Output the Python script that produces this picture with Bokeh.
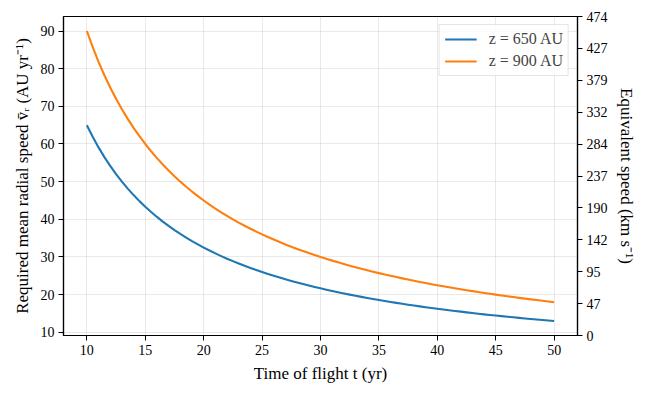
from bokeh.plotting import figure
from bokeh.models import Range1d, LinearAxis, FixedTicker, Legend, LegendItem
from bokeh.embed import file_html
from bokeh.resources import INLINE

# Time of flight (yr), half-year steps
t_yr = [10.0, 10.5, 11.0, 11.5, 12.0, 12.5, 13.0, 13.5, 14.0, 14.5, 15.0, 15.5, 16.0, 16.5,
        17.0, 17.5, 18.0, 18.5, 19.0, 19.5, 20.0, 20.5, 21.0, 21.5, 22.0, 22.5, 23.0, 23.5,
        24.0, 24.5, 25.0, 25.5, 26.0, 26.5, 27.0, 27.5, 28.0, 28.5, 29.0, 29.5, 30.0, 30.5,
        31.0, 31.5, 32.0, 32.5, 33.0, 33.5, 34.0, 34.5, 35.0, 35.5, 36.0, 36.5, 37.0, 37.5,
        38.0, 38.5, 39.0, 39.5, 40.0, 40.5, 41.0, 41.5, 42.0, 42.5, 43.0, 43.5, 44.0, 44.5,
        45.0, 45.5, 46.0, 46.5, 47.0, 47.5, 48.0, 48.5, 49.0, 49.5, 50.0]
# Required mean radial speed (AU/yr)
v_650 = [65.0, 61.9, 59.09, 56.52, 54.17, 52.0, 50.0, 48.15, 46.43, 44.83, 43.33, 41.94,
         40.63, 39.39, 38.24, 37.14, 36.11, 35.14, 34.21, 33.33, 32.5, 31.71, 30.95, 30.23,
         29.55, 28.89, 28.26, 27.66, 27.08, 26.53, 26.0, 25.49, 25.0, 24.53, 24.07, 23.64,
         23.21, 22.81, 22.41, 22.03, 21.67, 21.31, 20.97, 20.63, 20.31, 20.0, 19.7, 19.4,
         19.12, 18.84, 18.57, 18.31, 18.06, 17.81, 17.57, 17.33, 17.11, 16.88, 16.67, 16.46,
         16.25, 16.05, 15.85, 15.66, 15.48, 15.29, 15.12, 14.94, 14.77, 14.61, 14.44, 14.29,
         14.13, 13.98, 13.83, 13.68, 13.54, 13.4, 13.27, 13.13, 13.0]
v_900 = [90.0, 85.71, 81.82, 78.26, 75.0, 72.0, 69.23, 66.67, 64.29, 62.07, 60.0, 58.06,
         56.25, 54.55, 52.94, 51.43, 50.0, 48.65, 47.37, 46.15, 45.0, 43.9, 42.86, 41.86,
         40.91, 40.0, 39.13, 38.3, 37.5, 36.73, 36.0, 35.29, 34.62, 33.96, 33.33, 32.73,
         32.14, 31.58, 31.03, 30.51, 30.0, 29.51, 29.03, 28.57, 28.13, 27.69, 27.27, 26.87,
         26.47, 26.09, 25.71, 25.35, 25.0, 24.66, 24.32, 24.0, 23.68, 23.38, 23.08, 22.78,
         22.5, 22.22, 21.95, 21.69, 21.43, 21.18, 20.93, 20.69, 20.45, 20.22, 20.0, 19.78,
         19.57, 19.35, 19.15, 18.95, 18.75, 18.56, 18.37, 18.18, 18.0]
series_labels = ["z = 650 AU", "z = 900 AU"]
x_ticks = [10, 15, 20, 25, 30, 35, 40, 45, 50]
y_ticks = [10, 20, 30, 40, 50, 60, 70, 80, 90]
kms_ticks = [0, 47.4, 94.8, 142.2, 189.6, 237.0, 284.4, 331.8, 379.2, 426.6, 474.0]
kms_tick_labels = ["0", "47", "95", "142", "190", "237", "284", "332", "379", "427", "474"]

FONT = "Liberation Serif"
TICK_SIZE = "14px"
LABEL_SIZE = "17px"

p = figure(width=648, height=396, output_backend="svg", toolbar_location=None,
           x_range=Range1d(8, 52), y_range=Range1d(9.15, 93.85),
           min_border_left=63, min_border_right=71, min_border_top=16, min_border_bottom=61)
p.extra_y_ranges = {"kms": Range1d(0, 474)}

p.outline_line_color = "black"
p.outline_line_width = 1.2
p.background_fill_color = "white"
p.border_fill_color = "white"

r1 = p.line(t_yr, v_650, line_color="#1f77b4", line_width=2.1, line_join="round")
r2 = p.line(t_yr, v_900, line_color="#ff7f0e", line_width=2.1, line_join="round")

p.xaxis.ticker = FixedTicker(ticks=x_ticks)
p.yaxis.ticker = FixedTicker(ticks=y_ticks)
p.xaxis.axis_label = "Time of flight t (yr)"
p.yaxis.axis_label = "Required mean radial speed v\u0304\u1d63 (AU yr\u207b\u00b9)"

right = LinearAxis(y_range_name="kms", ticker=FixedTicker(ticks=kms_ticks),
                   major_label_overrides={k: l for k, l in zip(kms_ticks, kms_tick_labels)},
                   axis_label="Equivalent speed (km s\u207b\u00b9)")
p.add_layout(right, "right")

for ax in p.axis:
    ax.major_label_text_font = FONT
    ax.major_label_text_font_size = TICK_SIZE
    ax.major_label_text_color = "black"
    ax.axis_label_text_font = FONT
    ax.axis_label_text_font_size = LABEL_SIZE
    ax.axis_label_text_font_style = "normal"
    ax.axis_label_text_color = "black"
    ax.axis_line_color = "black"
    ax.axis_line_width = 1.2
    ax.major_tick_line_color = "black"
    ax.major_tick_line_width = 1.0
    ax.major_tick_out = 5
    ax.major_tick_in = 0
    ax.minor_tick_line_color = None
    ax.major_label_standoff = 4
    ax.axis_label_standoff = 6

for g in p.grid:
    g.grid_line_color = "#b0b0b0"
    g.grid_line_alpha = 0.35
    g.grid_line_width = 0.8

legend = Legend(items=[LegendItem(label=series_labels[0], renderers=[r1]),
                       LegendItem(label=series_labels[1], renderers=[r2])],
                location="top_right")
legend.label_text_font = FONT
legend.label_text_font_size = "16px"
legend.label_text_font_style = "normal"
legend.border_line_color = "#cccccc"
legend.border_line_width = 1
legend.background_fill_alpha = 0.8
legend.margin = 8
legend.padding = 5
legend.spacing = 4
legend.glyph_width = 32
legend.glyph_height = 18
legend.label_height = 18
legend.label_standoff = 12
p.add_layout(legend)

open("out.html", "w").write(file_html(p, INLINE))
